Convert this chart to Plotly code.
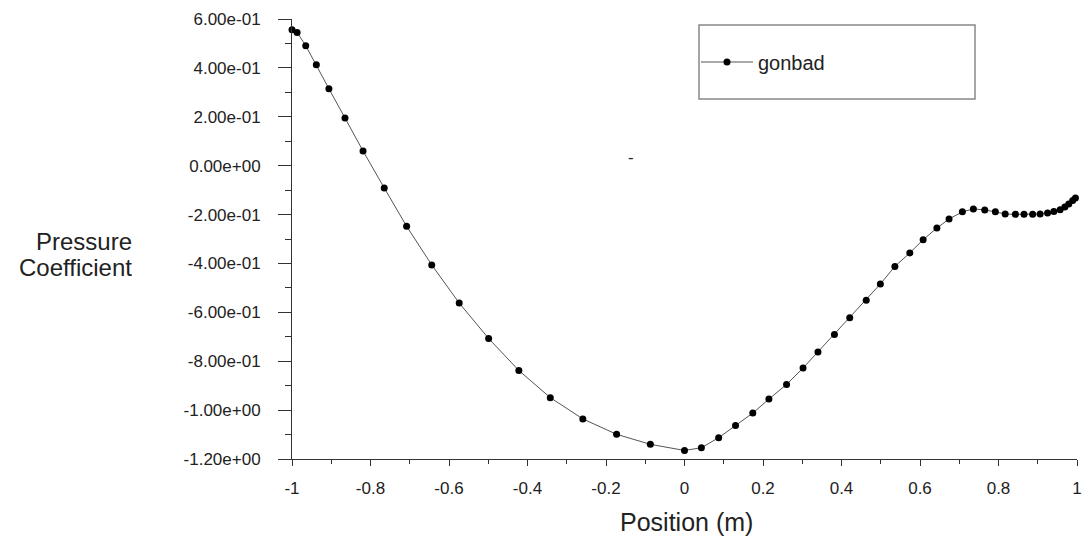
import plotly.graph_objects as go

# Pressure coefficient along the dome surface
position = [
    -1.000, -0.987, -0.965, -0.938, -0.906, -0.865, -0.819, -0.765, -0.708,
    -0.644, -0.574, -0.499, -0.422, -0.342, -0.259, -0.173, -0.087, 0.000,
    0.043, 0.087, 0.130, 0.174, 0.215, 0.260, 0.302, 0.340, 0.382, 0.421,
    0.463, 0.499, 0.536, 0.574, 0.608, 0.643, 0.674, 0.708, 0.736, 0.765,
    0.792, 0.817, 0.843, 0.865, 0.887, 0.906, 0.925, 0.941, 0.957, 0.969,
    0.979, 0.989, 0.996,
]
pressure_coef = [
    0.556, 0.545, 0.491, 0.413, 0.315, 0.195, 0.060, -0.091, -0.248,
    -0.406, -0.562, -0.707, -0.838, -0.949, -1.036, -1.099, -1.140, -1.165,
    -1.154, -1.113, -1.063, -1.012, -0.955, -0.895, -0.828, -0.762, -0.691,
    -0.622, -0.551, -0.484, -0.412, -0.357, -0.303, -0.255, -0.218, -0.189,
    -0.177, -0.181, -0.189, -0.198, -0.199, -0.199, -0.199, -0.198, -0.194,
    -0.188, -0.180, -0.169, -0.157, -0.142, -0.132,
]

x_tick_vals = [-1, -0.8, -0.6, -0.4, -0.2, 0, 0.2, 0.4, 0.6, 0.8, 1]
x_tick_text = ["-1", "-0.8", "-0.6", "-0.4", "-0.2", "0", "0.2", "0.4", "0.6", "0.8", "1"]
y_tick_vals = [0.6, 0.4, 0.2, 0.0, -0.2, -0.4, -0.6, -0.8, -1.0, -1.2]
y_tick_text = ["6.00e-01", "4.00e-01", "2.00e-01", "0.00e+00", "-2.00e-01",
               "-4.00e-01", "-6.00e-01", "-8.00e-01", "-1.00e+00", "-1.20e+00"]

FONT = "Liberation Sans, Arial, sans-serif"
INK = "#222222"
AXIS = "#333333"

W, H = 1083, 538
ML, MR, MT, MB = 292, 6, 19, 79
PW, PH = W - ML - MR, H - MT - MB


def px_x(px):
    """pixel column -> paper x"""
    return (px - ML) / PW


def px_y(py):
    """pixel row -> paper y"""
    return (H - MB - py) / PH


fig = go.Figure()
fig.add_trace(go.Scatter(
    x=position, y=pressure_coef, name="gonbad", mode="lines+markers",
    line=dict(color="#555555", width=1),
    marker=dict(color="black", size=7),
    cliponaxis=False,
))

fig.update_layout(
    width=W, height=H,
    margin=dict(l=ML, r=MR, t=MT, b=MB, autoexpand=False),
    paper_bgcolor="white", plot_bgcolor="white",
    font=dict(family=FONT, color=INK, size=17),
    showlegend=True,
    legend=dict(
        x=px_x(696), y=px_y(62),
        xanchor="left", yanchor="middle",
        bgcolor="rgba(0,0,0,0)", borderwidth=0,
        font=dict(family=FONT, size=20, color=INK),
        itemwidth=52,
    ),
    xaxis=dict(
        range=[-1, 1], showgrid=False, zeroline=False, automargin=False,
        showline=True, linecolor=AXIS, linewidth=1,
        ticks="outside", ticklen=6, tickcolor=AXIS, tickwidth=1,
        tickvals=x_tick_vals, ticktext=x_tick_text,
        ticklabelstandoff=8, ticklabeloverflow="allow",
        minor=dict(dtick=0.1, ticks="outside", ticklen=4, tickcolor=AXIS, showgrid=False),
        tickfont=dict(family=FONT, size=17, color=INK),
    ),
    yaxis=dict(
        range=[-1.2, 0.6], showgrid=False, zeroline=False, automargin=False,
        showline=True, linecolor=AXIS, linewidth=1,
        ticks="outside", ticklen=13, tickcolor=AXIS, tickwidth=1,
        tickvals=y_tick_vals, ticktext=y_tick_text,
        ticklabelstandoff=14,
        minor=dict(dtick=0.1, ticks="outside", ticklen=6, tickcolor=AXIS, showgrid=False),
        tickfont=dict(family=FONT, size=17, color=INK),
    ),
)

# legend frame
fig.add_shape(
    type="rect", xref="paper", yref="paper",
    x0=px_x(699), x1=px_x(975), y0=px_y(99), y1=px_y(25),
    line=dict(color="#888888", width=1.5), fillcolor="rgba(0,0,0,0)",
)

# axis titles
fig.add_annotation(
    text="Position (m)", xref="paper", yref="paper",
    x=px_x(686), y=px_y(522), xanchor="center", yanchor="middle",
    showarrow=False, font=dict(family=FONT, size=25, color=INK),
)
for line_text, y_px in (("Pressure", 241), ("Coefficient", 267)):
    fig.add_annotation(
        text=line_text, xref="paper", yref="paper",
        x=px_x(134), y=px_y(y_px),
        xanchor="right", yanchor="middle", height=24, valign="middle",
        showarrow=False, font=dict(family=FONT, size=24, color=INK),
    )
# stray dash mark in the plot area
fig.add_annotation(
    text="-", x=-0.136, y=0.035, showarrow=False,
    font=dict(family=FONT, size=17, color=INK),
)

fig.write_html("out.html")
